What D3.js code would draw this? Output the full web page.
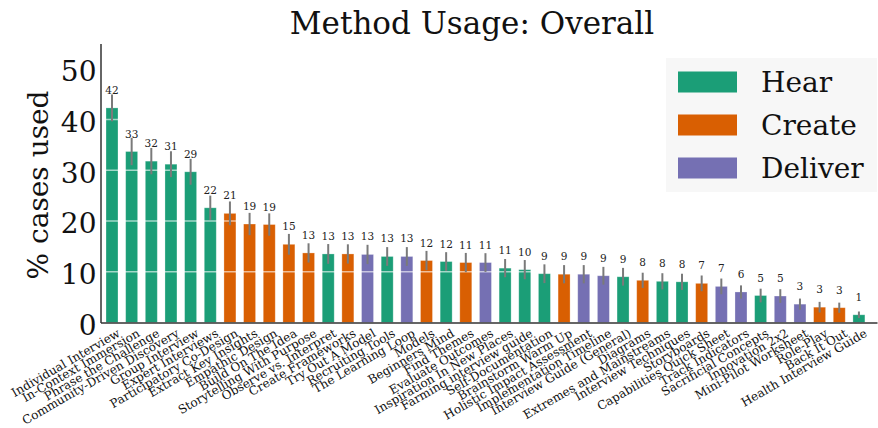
<!DOCTYPE html>
<html><head><meta charset="utf-8">
<script src="https://cdn.jsdelivr.net/npm/d3@7"></script>
<style>html,body{margin:0;padding:0;background:#fff;}svg{display:block;}</style>
</head><body>
<script>
const categories = ["Individual Interview","In-Context Immersion","Phrase the Challenge","Community-Driven Discovery","Group Interview","Expert Interviews","Participatory Co-Design","Extract Key Insights","Empathic Design","Build On The Idea","Storytelling With Purpose","Observe vs. Interpret","Create Frameworks","Try Out A Model","Recruiting Tools","The Learning Loop","Models","Beginners Mind","Find Themes","Evaluate Outcomes","Inspiration In New Places","Farming interview guide","Self-Documentation","Brainstorm Warm Up","Holistic Impact Assessment","Implementation Timeline","Interview Guide (General)","Diagrams","Extremes and Mainstreams","Interview Techniques","Storyboards","Capabilities Quick Sheet","Track Indicators","Sacrificial Concepts","Innovation 2x2","Mini-Pilot Worksheet","Role-Play","Back It Out","Health Interview Guide"];
const phases = ["Hear","Hear","Hear","Hear","Hear","Hear","Create","Create","Create","Create","Create","Hear","Create","Deliver","Hear","Deliver","Create","Hear","Create","Deliver","Hear","Hear","Hear","Create","Deliver","Deliver","Hear","Create","Hear","Hear","Create","Deliver","Deliver","Hear","Deliver","Deliver","Create","Create","Hear"];
const values = [42.3,33.7,31.8,31.2,29.7,22.6,21.5,19.4,19.3,15.4,13.7,13.5,13.5,13.4,13.0,13.0,12.2,12.0,11.8,11.8,10.7,10.4,9.6,9.5,9.5,9.2,9.0,8.3,8.1,8.0,7.7,7.1,6.0,5.3,5.2,3.6,3.0,2.9,1.5];
const errors = [2.65,2.7,2.6,2.55,2.55,2.4,2.35,2.2,2.2,2.05,1.9,1.95,1.9,1.9,1.85,1.85,1.9,1.85,1.9,1.85,1.8,1.9,1.85,1.8,1.8,1.75,1.75,1.5,1.6,1.6,1.55,1.55,1.3,1.35,1.35,1.1,1.05,1.0,0.65];
const valueLabels = ["42","33","32","31","29","22","21","19","19","15","13","13","13","13","13","13","12","12","11","11","11","10","9","9","9","9","9","8","8","8","7","7","6","5","5","3","3","3","1"];
const legendItems = ["Hear","Create","Deliver"];
const yTicks = [0,10,20,30,40,50];
const gridTicks = [10,20,30,40,50];

const W = 878, H = 428;
const font = "'DejaVu Serif', serif";
const color = d3.scaleOrdinal().domain(legendItems).range(["#1b9e77","#d95f02","#7570b3"]);

const svg = d3.select("body").append("svg").attr("width", W).attr("height", H);

const x = d3.scaleLinear().domain([-0.585, categories.length - 1 + 0.92]).range([100.5, 877]);
const pitch = x(1) - x(0);
const bw = pitch * 0.61;
const y = d3.scaleLinear().domain([0, 55]).range([322.4, 43.5]);

const data = categories.map((c, i) => ({c, i, v: values[i], e: errors[i], p: phases[i], l: valueLabels[i]}));

// bars
svg.append("g").selectAll("rect").data(data).join("rect")
  .attr("x", d => x(d.i) - bw / 2).attr("width", bw)
  .attr("y", d => y(d.v)).attr("height", d => y(0) - y(d.v))
  .attr("fill", d => color(d.p))
  .attr("stroke", "#ffffff").attr("stroke-opacity", 0.35).attr("stroke-width", 0.8);

// white gridlines over bars
svg.append("g").selectAll("line").data(gridTicks).join("line")
  .attr("x1", x.range()[0]).attr("x2", x.range()[1])
  .attr("y1", d => y(d)).attr("y2", d => y(d))
  .attr("stroke", "#ffffff").attr("stroke-opacity", 0.6).attr("stroke-width", 1.5);

// error bars
svg.append("g").selectAll("line").data(data).join("line")
  .attr("x1", d => x(d.i)).attr("x2", d => x(d.i))
  .attr("y1", d => y(d.v - d.e)).attr("y2", d => y(d.v + d.e))
  .attr("stroke", "#7a7a7a").attr("stroke-width", 2);

// value labels
svg.append("g").selectAll("text").data(data).join("text")
  .attr("x", d => x(d.i)).attr("y", d => y(d.v) - 18)
  .attr("text-anchor", "middle").attr("dominant-baseline", "central")
  .style("font-family", font).style("font-size", "10.5px").attr("fill", "#222")
  .text(d => d.l);

// axes
const yAxis = svg.append("g").attr("transform", `translate(${x.range()[0]},0)`)
  .call(d3.axisLeft(y).tickValues(yTicks).tickSize(0).tickPadding(4));
yAxis.select(".domain").attr("stroke", "#333").attr("stroke-width", 1.5);
yAxis.selectAll("text").style("font-family", font).style("font-size", "28px").attr("fill", "#111")
  .attr("dy", "0.42em");

const xAxis = svg.append("g").attr("transform", `translate(0,${y(0)})`)
  .call(d3.axisBottom(x).tickValues(d3.range(categories.length)).tickSize(0).tickFormat(i => categories[i]));
xAxis.select(".domain").attr("stroke", "#333").attr("stroke-width", 1.5);
xAxis.selectAll("text")
  .style("font-family", font).style("font-size", "12px").attr("fill", "#111")
  .attr("text-anchor", "end")
  .attr("transform", "translate(2,2) rotate(-30)")
  .attr("dy", "0.75em").attr("y", 4).attr("x", 0);

// y label
svg.append("text")
  .attr("transform", `translate(38,${(y(0) + y(55)) / 2 + 2}) rotate(-90)`)
  .attr("text-anchor", "middle").attr("dominant-baseline", "central")
  .style("font-family", font).style("font-size", "28px").attr("fill", "#111")
  .text("% cases used");

// title
svg.append("text").attr("x", 472).attr("y", 34).attr("text-anchor", "middle")
  .style("font-family", font).style("font-size", "31px").attr("fill", "#111")
  .text("Method Usage: Overall");

// legend
const lg = svg.append("g");
lg.append("rect").attr("x", 666).attr("y", 58).attr("width", 211).attr("height", 134)
  .attr("fill", "#f7f7f7");
const ly = d3.scalePoint().domain(legendItems).range([82, 168]);
legendItems.forEach(k => {
  lg.append("rect").attr("x", 678).attr("y", ly(k) - 10.5).attr("width", 59).attr("height", 21)
    .attr("fill", color(k));
  lg.append("text").attr("x", 761).attr("y", ly(k)).attr("dominant-baseline", "central")
    .style("font-family", font).style("font-size", "28px").attr("fill", "#111").text(k);
});
</script>
</body></html>
